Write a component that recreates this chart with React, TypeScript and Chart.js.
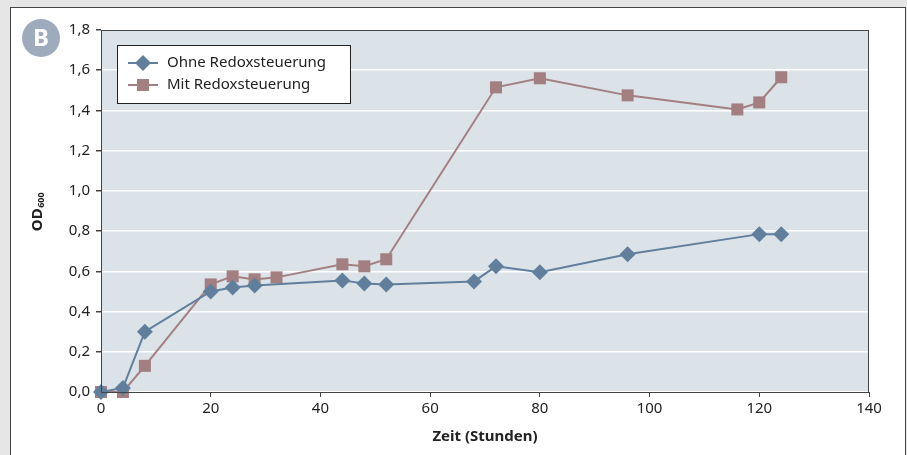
import React, { useEffect, useRef } from "react";
import { Chart, registerables } from "chart.js";

Chart.register(...registerables);

const hoursOhne = [0, 4, 8, 20, 24, 28, 44, 48, 52, 68, 72, 80, 96, 120, 124];
const odOhne = [0, 0.02, 0.3, 0.5, 0.52, 0.53, 0.555, 0.54, 0.535, 0.55, 0.625, 0.595, 0.685, 0.785, 0.785];
const hoursMit = [0, 4, 8, 20, 24, 28, 32, 44, 48, 52, 72, 80, 96, 116, 120, 124];
const odMit = [0, 0, 0.13, 0.535, 0.575, 0.56, 0.57, 0.635, 0.625, 0.66, 1.515, 1.56, 1.475, 1.405, 1.44, 1.565];
const seriesLabels = ["Ohne Redoxsteuerung", "Mit Redoxsteuerung"];
const xTitle = "Zeit (Stunden)";
const yTitleMain = "OD";
const yTitleSub = "600";
const badgeText = "B";

const BLUE = "#617f9d";
const RED = "#a37f82";
const FONT = "'Noto Sans', 'Open Sans', sans-serif";

const decorPlugin = {
  id: "decor",
  beforeDraw(chart: any) {
    const { ctx, chartArea: a } = chart;
    ctx.save();
    ctx.fillStyle = "#dbe3e8";
    ctx.fillRect(a.left, a.top, a.right - a.left, a.bottom - a.top);
    ctx.restore();
  },
  afterDatasetsDraw(chart: any) {
    const { ctx, chartArea: a } = chart;
    ctx.save();
    // plot border
    ctx.strokeStyle = "#444";
    ctx.lineWidth = 1;
    ctx.strokeRect(a.left + 0.5, a.top + 0.5, a.right - a.left - 1, a.bottom - a.top);

    // legend
    const lx = 117, ly = 45, lw = 234, lh = 59;
    ctx.fillStyle = "#ffffff";
    ctx.fillRect(lx, ly, lw, lh);
    ctx.strokeStyle = "#222";
    ctx.strokeRect(lx + 0.5, ly + 0.5, lw - 1, lh - 1);
    const entries = [
      { label: chart.data.datasets[0].label, color: BLUE, style: "rectRot", r: 8, y: 63 },
      { label: chart.data.datasets[1].label, color: RED, style: "rect", r: 8.5, y: 85 },
    ];
    entries.forEach((e) => {
      ctx.strokeStyle = e.color;
      ctx.lineWidth = 2;
      ctx.beginPath();
      ctx.moveTo(128, e.y);
      ctx.lineTo(158, e.y);
      ctx.stroke();
      ctx.fillStyle = e.color;
      ctx.beginPath();
      if (e.style === "rectRot") {
        ctx.moveTo(143, e.y - e.r);
        ctx.lineTo(143 + e.r, e.y);
        ctx.lineTo(143, e.y + e.r);
        ctx.lineTo(143 - e.r, e.y);
        ctx.closePath();
      } else {
        const s = e.r * Math.SQRT1_2;
        ctx.rect(143 - s, e.y - s, 2 * s, 2 * s);
      }
      ctx.fill();
      ctx.fillStyle = "#222";
      ctx.font = `15px ${FONT}`;
      ctx.textBaseline = "middle";
      ctx.textAlign = "left";
      ctx.fillText(e.label, 167, e.y);
    });

    // x title
    ctx.fillStyle = "#222";
    ctx.font = `bold 15px ${FONT}`;
    ctx.textAlign = "center";
    ctx.textBaseline = "middle";
    ctx.fillText(xTitle, (a.left + a.right) / 2, 437);

    // y title with subscript
    ctx.translate(37, 212);
    ctx.rotate(-Math.PI / 2);
    ctx.font = `bold 15px ${FONT}`;
    const w1 = ctx.measureText(yTitleMain).width;
    ctx.font = `bold 9px ${FONT}`;
    const w2 = ctx.measureText(yTitleSub).width;
    const start = -(w1 + w2) / 2;
    ctx.textAlign = "left";
    ctx.textBaseline = "alphabetic";
    ctx.font = `bold 15px ${FONT}`;
    ctx.fillText(yTitleMain, start, 5);
    ctx.font = `bold 9px ${FONT}`;
    ctx.fillText(yTitleSub, start + w1 + 0.5, 7);
    ctx.setTransform(1, 0, 0, 1, 0, 0);

    // badge
    ctx.fillStyle = "#9eabbd";
    ctx.beginPath();
    ctx.arc(41, 38, 19, 0, Math.PI * 2);
    ctx.fill();
    ctx.fillStyle = "#ffffff";
    ctx.font = `bold 24px ${FONT}`;
    ctx.textAlign = "center";
    ctx.textBaseline = "middle";
    ctx.fillText(badgeText, 41, 39);
    ctx.restore();
  },
};

export default function App() {
  const ref = useRef<HTMLCanvasElement>(null);
  useEffect(() => {
    if (!ref.current) return;
    const chart = new Chart(ref.current, {
      type: "line",
      data: {
        datasets: [
          {
            label: seriesLabels[0],
            data: hoursOhne.map((h, i) => ({ x: h, y: odOhne[i] })),
            borderColor: BLUE,
            backgroundColor: BLUE,
            borderWidth: 2,
            pointStyle: "rectRot",
            pointRadius: 8,
            pointHoverRadius: 8,
            pointBorderWidth: 0,
            clip: false,
          },
          {
            label: seriesLabels[1],
            data: hoursMit.map((h, i) => ({ x: h, y: odMit[i] })),
            borderColor: RED,
            backgroundColor: RED,
            borderWidth: 2,
            pointStyle: "rect",
            pointRadius: 8.5,
            pointHoverRadius: 8.5,
            pointBorderWidth: 0,
            clip: false,
          },
        ],
      },
      options: {
        animation: false,
        responsive: false,
        layout: { padding: { top: 30, right: 38, left: 0, bottom: 0 } },
        plugins: { legend: { display: false }, tooltip: { enabled: false } },
        scales: {
          x: {
            type: "linear",
            min: 0,
            max: 140,
            ticks: { stepSize: 20, color: "#222", font: { size: 15, family: FONT }, padding: 3 },
            grid: { drawOnChartArea: false, tickLength: 5, tickColor: "#444" },
            border: { display: true, color: "#444", width: 1 },
            afterFit: (s: any) => {
              s.height = 63;
            },
          },
          y: {
            min: 0,
            max: 1.8,
            ticks: {
              stepSize: 0.2,
              color: "#222",
              font: { size: 15, family: FONT },
              padding: 6,
              callback: (v: any) => Number(v).toFixed(1).replace(".", ","),
            },
            grid: { color: "#ffffff", lineWidth: 1.5, tickLength: 5, tickColor: "#444" },
            border: { display: true, color: "#444", width: 1 },
            afterFit: (s: any) => {
              s.width = 101;
            },
          },
        },
      },
      plugins: [decorPlugin],
    });
    return () => chart.destroy();
  }, []);
  return (
    <div style={{ position: "fixed", left: 0, top: 0, width: 907, height: 455, background: "#e6e6e6", overflow: "hidden" }}>
      <div
        style={{
          position: "absolute",
          left: 10,
          top: 7,
          width: 894,
          height: 470,
          background: "#ffffff",
          border: "1px solid #444",
        }}
      />
      <canvas ref={ref} width={907} height={455} style={{ position: "absolute", left: 0, top: 0 }} />
    </div>
  );
}
